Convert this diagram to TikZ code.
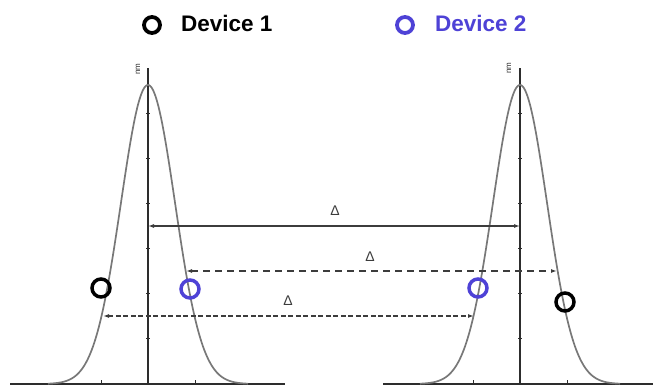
\documentclass[tikz,border=0pt]{standalone}
\usepackage{fontspec}
\setmainfont{Liberation Sans}
\usetikzlibrary{arrows.meta}
\definecolor{devblue}{RGB}{78,66,214}
\definecolor{curvegray}{RGB}{120,120,120}
\definecolor{axisgray}{RGB}{45,45,45}
\definecolor{dimgray}{RGB}{60,60,60}
\begin{document}
\begin{tikzpicture}[x=1pt,y=-1pt,
  axis/.style={draw=axisgray, line width=1.3pt},
  tick/.style={draw=axisgray, line width=0.9pt},
  curve/.style={draw=curvegray, line width=1.7pt},
  devone/.style={circle, draw=black, line width=3.5pt, minimum size=18pt, inner sep=0pt},
  devtwo/.style={circle, draw=devblue, line width=3.5pt, minimum size=18pt, inner sep=0pt},
  legone/.style={circle, draw=black, line width=3.8pt, minimum size=16pt, inner sep=0pt},
  legtwo/.style={circle, draw=devblue, line width=3.8pt, minimum size=16pt, inner sep=0pt},
  legtext/.style={font=\fontsize{22.5}{26}\selectfont\bfseries, inner sep=0pt, anchor=base west},
  tipd/.tip={Latex[length=6pt,width=4pt]},
  dimsolid/.style={draw=dimgray, line width=1.1pt, tipd-tipd},
  dimdash/.style={draw=dimgray, line width=1.2pt, dash pattern=on 7pt off 5pt, tipd-tipd},
  dimdense/.style={draw=dimgray, line width=1.4pt, dash pattern=on 5pt off 2.5pt, tipd-tipd},
  deltalbl/.style={font=\fontsize{14}{16}\selectfont, text=dimgray, inner sep=1pt},
  unitlbl/.style={font=\fontsize{8}{9}\selectfont, text=axisgray, rotate=90, inner sep=0pt}
]
\useasboundingbox (0,0) rectangle (653,387);

% legend
\node[legone] (l1) at (152,25) {};
\node[legtext] (t1) at (181,32) {Device 1};
\node[legtwo] (l2) at (405,25) {};
\node[legtext, text=devblue] (t2) at (435,32) {Device 2};

% axes
\coordinate (LA) at (148,384);
\coordinate (LT) at (148,68);
\coordinate (RA) at (520,384);
\coordinate (RT) at (520,68);
\coordinate (LB0) at (10,384);
\coordinate (LB1) at (285,384);
\coordinate (RB0) at (383,384);
\coordinate (RB1) at (653,384);
\draw[axis] (LB0) -- (LB1);
\draw[axis] (RB0) -- (RB1);
\draw[axis] (LA) -- (LT);
\draw[axis] (RA) -- (RT);
\foreach \yy in {113,158,203,248,293,338} {
  \draw[tick] (146,\yy) -- (150,\yy);
  \draw[tick] (518,\yy) -- (522,\yy);
}
\foreach \xx in {101,195,473,567} {
  \draw[tick] (\xx,384) -- (\xx,380);
}
\node[unitlbl] (u1) at (138,69) {nm};
\node[unitlbl] (u2) at (509,68) {nm};

% gaussian curves
\draw[curve, domain=-100:100, samples=161, smooth] plot ({148+\x}, {384-299*exp(-\x*\x/1458)});
\draw[curve, domain=-100:100, samples=161, smooth] plot ({520+\x}, {384-299*exp(-\x*\x/1458)});

% dimension lines
\coordinate (s1) at (148,226);
\coordinate (s2) at (520,226);
\draw[dimsolid] (s1) -- (s2);
\node[deltalbl] (d1) at (335,211) {Δ};

\coordinate (m1) at (186,271);
\coordinate (m2) at (557,271);
\draw[dimdash] (m1) -- (m2);
\node[deltalbl] (d2) at (370,257) {Δ};

\coordinate (n1) at (103,316);
\coordinate (n2) at (474,316);
\draw[dimdense] (n1) -- (n2);
\node[deltalbl] (d3) at (288,301) {Δ};

% devices
\node[devone] (b1) at (101,288) {};
\node[devtwo] (c1) at (190,289) {};
\node[devtwo] (c2) at (478,288) {};
\node[devone] (b2) at (565,302) {};
\end{tikzpicture}
\end{document}
